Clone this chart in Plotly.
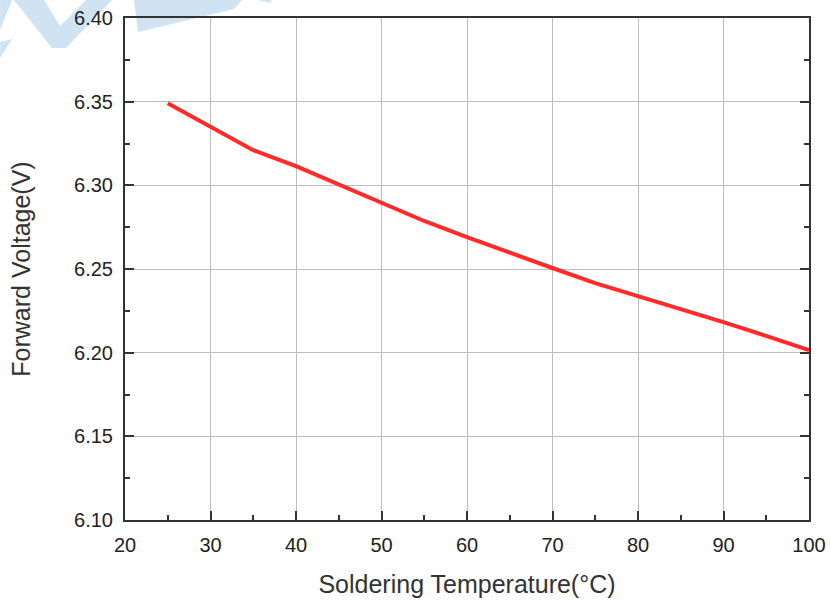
import plotly.graph_objects as go

temperature = [25, 30, 35, 40, 45, 50, 55, 60, 65, 70, 75, 80, 85, 90, 95, 100]
forward_voltage = [6.349, 6.335, 6.321, 6.3115, 6.3005, 6.290, 6.2787, 6.269, 6.2595, 6.2506, 6.2416, 6.234, 6.226, 6.2183, 6.210, 6.2015]

x_ticks = [20, 30, 40, 50, 60, 70, 80, 90, 100]
y_ticks = [6.10, 6.15, 6.20, 6.25, 6.30, 6.35, 6.40]
y_labels = ["%.2f" % v for v in y_ticks]

FONT = "Liberation Sans, Arial, sans-serif"
W, H = 831, 601
ML, MR, MT, MB = 125, 22, 18, 81

fig = go.Figure()
fig.add_trace(go.Scatter(
    x=temperature, y=forward_voltage, mode="lines",
    line=dict(color="#ff2a2a", width=4),
    hoverinfo="skip", showlegend=False, cliponaxis=False,
))

axis_common = dict(
    showline=True, linecolor="#333333", linewidth=2,
    ticks="inside", ticklen=9, tickwidth=2, tickcolor="#333333",
    showgrid=True, gridcolor="#bdbdbd", gridwidth=1,
    zeroline=False, ticklabelstandoff=6, automargin=False,
    tickfont=dict(family=FONT, size=20, color="#222222"),
)

fig.update_xaxes(
    **axis_common,
    range=[20, 100], tickvals=x_ticks, ticktext=[str(v) for v in x_ticks],
    mirror=True,
    minor=dict(ticks="inside", ticklen=5, tickwidth=2, tickcolor="#333333", dtick=5, tick0=0, showgrid=False),
    title=dict(text="Soldering Temperature(\u00b0C)", font=dict(family=FONT, size=25, color="#333333"), standoff=20),
)
fig.update_yaxes(
    **axis_common,
    range=[6.10, 6.40], tickvals=y_ticks, ticktext=y_labels,
    mirror="ticks",
    minor=dict(ticks="inside", ticklen=5, tickwidth=2, tickcolor="#333333", dtick=0.025, tick0=6.1, showgrid=False),
    title=dict(text="Forward Voltage(V)", font=dict(family=FONT, size=25, color="#333333"), standoff=36),
)

# faint watermark decoration in the top-left corner (pixel polygons -> paper coords)
def px_path(pts):
    pw, ph = W - ML - MR, H - MT - MB
    conv = [((x - ML) / pw, (H - MB - y) / ph) for x, y in pts]
    return "M " + " L ".join("%.4f,%.4f" % p for p in conv) + " Z"

watermark = [
    [(0, 0), (12, 0), (0, 30)],
    [(0, 42), (12, 39), (0, 58)],
    [(14, 0), (44, 0), (60, 26), (86, 0), (112, 0), (66, 48), (52, 48)],
    [(134, 0), (242, 0), (234, 9), (138, 32)],
    [(258, 0), (272, 0), (270, 3)],
]
for poly in watermark:
    fig.add_shape(type="path", path=px_path(poly), xref="paper", yref="paper",
                  fillcolor="rgba(160,200,230,0.5)", line=dict(width=0), layer="below")

fig.update_layout(
    width=W, height=H,
    margin=dict(l=ML, r=MR, t=MT, b=MB, autoexpand=False),
    paper_bgcolor="white", plot_bgcolor="rgba(0,0,0,0)",
    font=dict(family=FONT),
)

fig.write_html("out.html")
